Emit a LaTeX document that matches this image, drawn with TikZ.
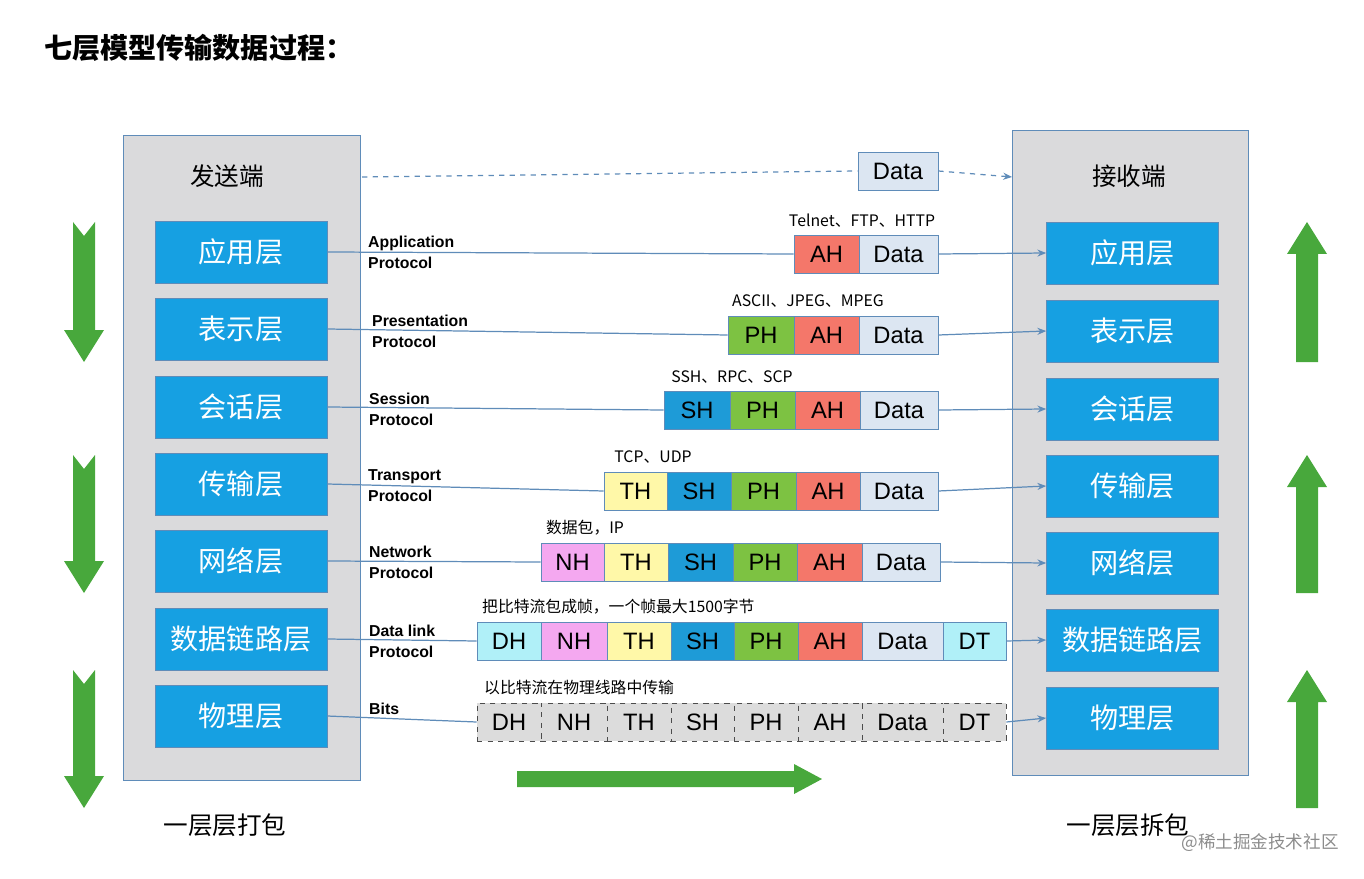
\documentclass[tikz,border=0pt]{standalone}
\usepackage{fontspec}
\setmainfont{Noto Sans CJK SC}
\newfontfamily\latf{Liberation Sans}
\usetikzlibrary{arrows.meta}
\definecolor{lay}{RGB}{22,160,226}
\definecolor{bord}{RGB}{95,140,185}
\definecolor{boxg}{RGB}{218,218,220}
\definecolor{cDH}{RGB}{176,240,248}
\definecolor{cNH}{RGB}{244,168,240}
\definecolor{cTH}{RGB}{255,248,168}
\definecolor{cSH}{RGB}{30,155,215}
\definecolor{cPH}{RGB}{125,194,66}
\definecolor{cAH}{RGB}{244,119,106}
\definecolor{cDa}{RGB}{220,230,242}
\definecolor{cGr}{RGB}{220,220,220}
\definecolor{grn}{RGB}{72,168,60}
\tikzset{
 layer/.style={draw=bord,fill=lay,text=white,minimum width=3.44cm,minimum height=1.24cm,font=\fontsize{16}{16}\selectfont},
 cellst/.style={draw=bord,minimum height=0.76cm,inner sep=0pt,font=\latf\fontsize{13.5}{14}\selectfont},
 dcell/.style={draw=black!70,dashed,fill=cGr},
 proto/.style={font=\latf\bfseries\fontsize{9}{12}\selectfont,align=left,anchor=west},
 anno/.style={font=\fontsize{9}{10}\selectfont,anchor=south},
 conn/.style={draw=bord,line width=0.7pt},
 carr/.style={conn,-{Stealth[length=5pt,width=4pt]}},
 garr/.style={fill=grn,draw=none}
}
\newcommand\cellbox[7]{%
 \pgfmathsetmacro\cw{(#3-#2)*0.02}%
 \node[cellst,fill=#5,minimum width=\cw cm,#7] (#1) at ({(#2+#3)/2},#4) {#6};}
\begin{document}
\begin{tikzpicture}[x=0.02cm,y=-0.02cm]
\useasboundingbox (0,0) rectangle (1364,878);
\node[anchor=west,font=\bfseries\fontsize{16}{16}\selectfont] (title) at (38,48) {七层模型传输数据过程：};
% side boxes
\node[draw=bord,fill=boxg,minimum width=4.74cm,minimum height=12.9cm,inner sep=0pt] (SB) at (241.5,457.5) {};
\node[draw=bord,fill=boxg,minimum width=4.72cm,minimum height=12.9cm,inner sep=0pt] (RB) at (1130,452.5) {};
\node[font=\fontsize{14}{14}\selectfont] (st) at (227,176) {发送端};
\node[font=\fontsize{14}{14}\selectfont] (rt) at (1129,176) {接收端};
\node[font=\fontsize{14}{14}\selectfont] (sb) at (225,825) {一层层打包};
\node[font=\fontsize{14}{14}\selectfont] (rb) at (1128,825) {一层层拆包};
\node[text=black!45,font=\fontsize{10}{10}\selectfont] (wm) at (1260,843) {@稀土掘金技术社区};
% layers
\foreach \n/\t/\yl/\yr in {1/应用层/252/253,2/表示层/329/331,3/会话层/407/409,4/传输层/484/486,5/网络层/561/563,6/数据链路层/639/640,7/物理层/716/718}{
 \node[layer] (L\n) at (241,\yl) {\t};
 \node[layer] (R\n) at (1132.5,\yr) {\t};
}
% top data
\cellbox{top}{858}{938}{171}{cDa}{Data}{}
\coordinate (ts) at (362,177);
\coordinate (te) at (1012,177);
\draw[conn,dashed] (ts) -- (top.west);
\draw[carr,dashed] (top.east) -- (te);
% row 1
\cellbox{aA}{794}{859}{254}{cAH}{AH}{}
\cellbox{aD}{859}{938}{254}{cDa}{Data}{}
% row 2
\cellbox{bP}{728}{794}{335}{cPH}{PH}{}
\cellbox{bA}{794}{859}{335}{cAH}{AH}{}
\cellbox{bD}{859}{938}{335}{cDa}{Data}{}
% row 3
\cellbox{cS}{664}{730}{410}{cSH}{SH}{}
\cellbox{cP}{730}{795}{410}{cPH}{PH}{}
\cellbox{cA}{795}{860}{410}{cAH}{AH}{}
\cellbox{cD}{860}{938}{410}{cDa}{Data}{}
% row 4
\cellbox{dT}{604}{667}{491}{cTH}{TH}{}
\cellbox{dS}{667}{731}{491}{cSH}{SH}{}
\cellbox{dP}{731}{796}{491}{cPH}{PH}{}
\cellbox{dA}{796}{860}{491}{cAH}{AH}{}
\cellbox{dD}{860}{938}{491}{cDa}{Data}{}
% row 5
\cellbox{eN}{541}{604}{562}{cNH}{NH}{}
\cellbox{eT}{604}{668}{562}{cTH}{TH}{}
\cellbox{eS}{668}{733}{562}{cSH}{SH}{}
\cellbox{eP}{733}{797}{562}{cPH}{PH}{}
\cellbox{eA}{797}{862}{562}{cAH}{AH}{}
\cellbox{eD}{862}{940}{562}{cDa}{Data}{}
% row 6
\cellbox{fH}{477}{541}{641}{cDH}{DH}{}
\cellbox{fN}{541}{607}{641}{cNH}{NH}{}
\cellbox{fT}{607}{671}{641}{cTH}{TH}{}
\cellbox{fS}{671}{734}{641}{cSH}{SH}{}
\cellbox{fP}{734}{798}{641}{cPH}{PH}{}
\cellbox{fA}{798}{862}{641}{cAH}{AH}{}
\cellbox{fD}{862}{943}{641}{cDa}{Data}{}
\cellbox{fE}{943}{1006}{641}{cDH}{DT}{}
% row 7
\cellbox{gH}{477}{541}{722}{cGr}{DH}{dcell}
\cellbox{gN}{541}{607}{722}{cGr}{NH}{dcell}
\cellbox{gT}{607}{671}{722}{cGr}{TH}{dcell}
\cellbox{gS}{671}{734}{722}{cGr}{SH}{dcell}
\cellbox{gP}{734}{798}{722}{cGr}{PH}{dcell}
\cellbox{gA}{798}{862}{722}{cGr}{AH}{dcell}
\cellbox{gD}{862}{943}{722}{cGr}{Data}{dcell}
\cellbox{gE}{943}{1006}{722}{cGr}{DT}{dcell}
% connectors
\foreach \l/\a/\b in {1/aA/aD,2/bP/bD,3/cS/cD,4/dT/dD,5/eN/eD,6/fH/fE,7/gH/gE}{
 \draw[conn] (L\l.east) -- (\a.west);
 \draw[carr] (\b.east) -- (R\l.west);
}
% protocol labels
\node[proto] (p1) at (362,252) {Application\\Protocol};
\node[proto] (p2) at (366,331) {Presentation\\Protocol};
\node[proto] (p3) at (363,409) {Session\\Protocol};
\node[proto] (p4) at (362,486) {Transport\\Protocol};
\node[proto] (p5) at (363,562) {Network\\Protocol};
\node[proto] (p6) at (363,641) {Data link\\Protocol};
\node[proto] (p7) at (363,709) {Bits};
% annotations
\node[anno] (n1) at (862,234) {Telnet、FTP、HTTP};
\node[anno] (n2) at (808,314) {ASCII、JPEG、MPEG};
\node[anno] (n3) at (732,390) {SSH、RPC、SCP};
\node[anno] (n4) at (653,470) {TCP、UDP};
\node[anno] (n5) at (585,541) {数据包，IP};
\node[anno,anchor=south west] (n6) at (476,620) {把比特流包成帧，一个帧最大1500字节};
\node[anno,anchor=south west] (n7) at (478,701) {以比特流在物理线路中传输};
% green arrows
\foreach \yt/\yb in {222/362,455/593,670/808}{
 \fill[garr] (73,\yt) -- (84,\yt+14) -- (95,\yt) -- (95,\yb-32) -- (104,\yb-32) -- (84,\yb) -- (64,\yb-32) -- (73,\yb-32) -- cycle;
 \fill[garr] (1296,\yb) -- (1318,\yb) -- (1318,\yt+32) -- (1327,\yt+32) -- (1307,\yt) -- (1287,\yt+32) -- (1296,\yt+32) -- cycle;
}
\fill[garr] (517,771) -- (794,771) -- (794,764) -- (822,779) -- (794,794) -- (794,787) -- (517,787) -- cycle;
\end{tikzpicture}
\end{document}
